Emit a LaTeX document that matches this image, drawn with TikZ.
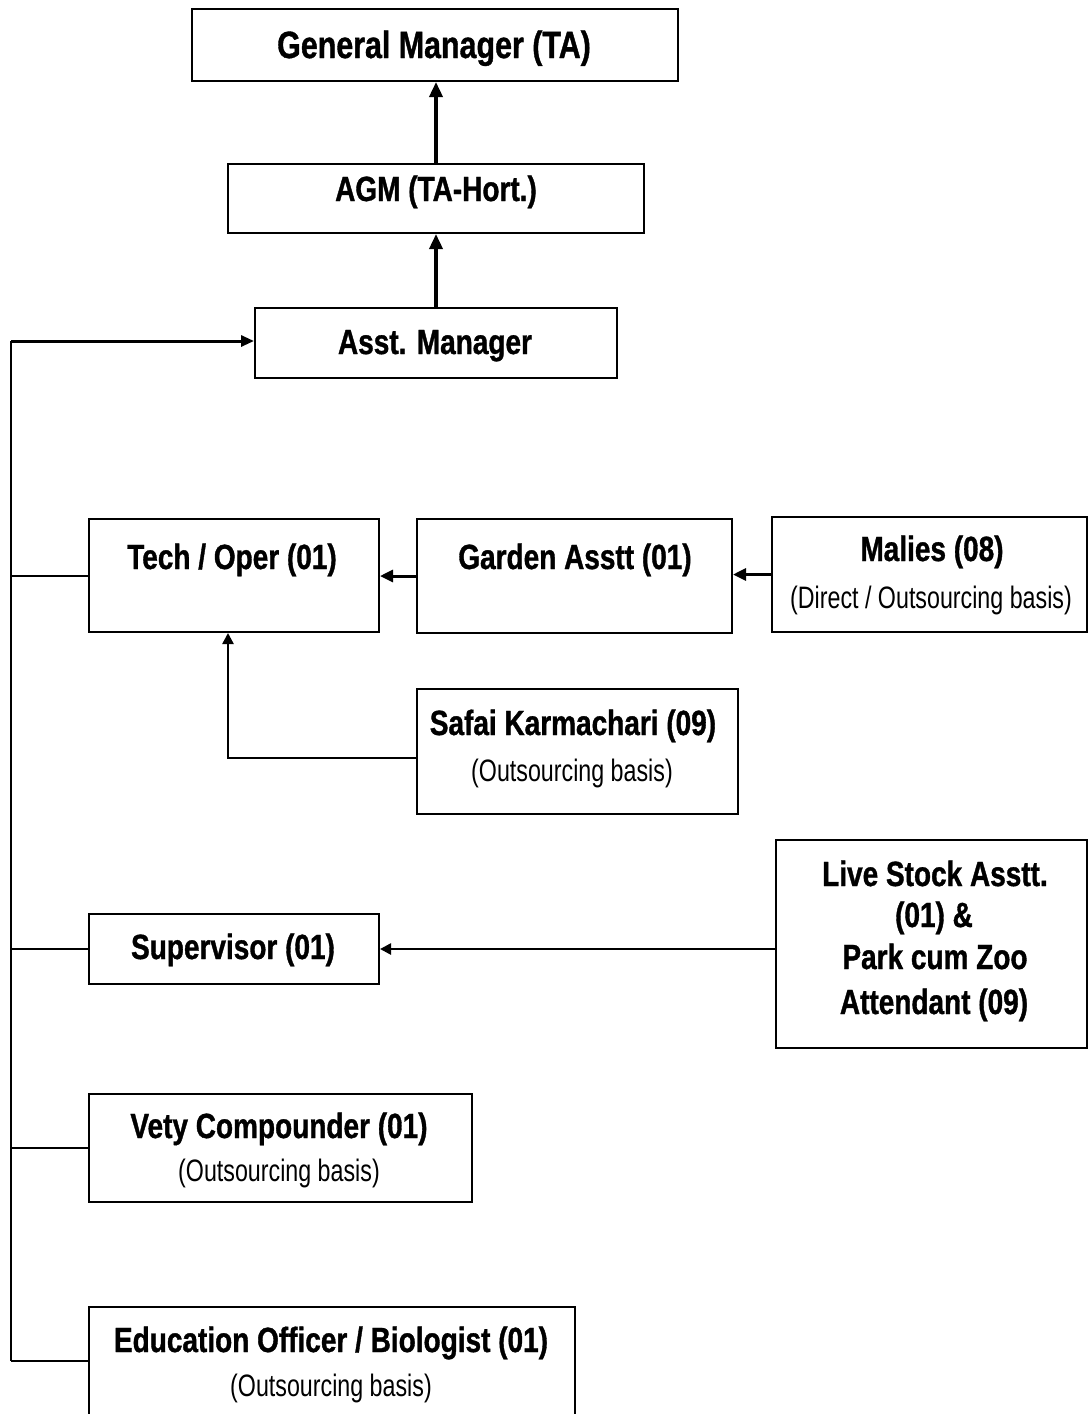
\documentclass[tikz,border=0pt]{standalone}
\usepackage{fontspec}
\newfontfamily\mainf[FakeStretch=0.8,FakeBold=1]{Liberation Sans Bold}
\newfontfamily\subf[FakeStretch=0.75]{Liberation Sans}
\usetikzlibrary{arrows.meta}
\tikzset{
  box/.style={draw, line width=2pt, inner sep=0pt, anchor=north west},
  ttl/.style={inner sep=0pt, anchor=base, font=\mainf\fontsize{35}{40}\selectfont},
  sub/.style={inner sep=0pt, anchor=base, font=\subf\fontsize{31}{36}\selectfont},
  bigarrow/.style={line width=3.5pt, -{Triangle[length=15pt,width=13pt]}},
  midarrow/.style={line width=3pt, -{Triangle[length=13pt,width=12pt]}},
  smallarrow/.style={line width=3pt, -{Triangle[length=13pt,width=11pt]}},
  thinarrow/.style={line width=2.5pt, -{Triangle[length=11pt,width=11pt]}},
  busline/.style={line width=2pt},
}
\begin{document}
\begin{tikzpicture}[x=1pt,y=-1pt]
\useasboundingbox (0,0) rectangle (1088,1414);
\begin{scope}
\clip (0,0) rectangle (1088,1414);
% boxes
\node[box, minimum width=486pt, minimum height=72pt] (gm) at (191,8) {};
\node[box, minimum width=416pt, minimum height=69pt] (agm) at (227,163) {};
\node[box, minimum width=362pt, minimum height=70pt] (am) at (254,307) {};
\node[box, minimum width=290pt, minimum height=113pt] (tech) at (88,518) {};
\node[box, minimum width=315pt, minimum height=114pt] (garden) at (416,518) {};
\node[box, minimum width=315pt, minimum height=115pt] (malies) at (771,516) {};
\node[box, minimum width=321pt, minimum height=125pt] (safai) at (416,688) {};
\node[box, minimum width=290pt, minimum height=70pt] (sup) at (88,913) {};
\node[box, minimum width=311pt, minimum height=208pt] (live) at (775,839) {};
\node[box, minimum width=383pt, minimum height=108pt] (vety) at (88,1093) {};
\node[box, minimum width=486pt, minimum height=140pt] (edu) at (88,1306) {};

% texts
\node[ttl, font=\mainf\fontsize{38}{42}\selectfont] (gmt) at (434,58) {General Manager (TA)};
\node[ttl] (agmt) at (436,201) {AGM (TA-Hort.)};
\node[ttl] (amt) at (435,354) {Asst. Manager};
\node[ttl] (techt) at (232,569) {Tech / Oper (01)};
\node[ttl] (gardent) at (575,569) {Garden Asstt (01)};
\node[ttl] (maliest) at (932,561) {Malies (08)};
\node[sub] (maliess) at (931,608) {(Direct / Outsourcing basis)};
\node[ttl] (safait) at (573,735) {Safai Karmachari (09)};
\node[sub] (safais) at (572,781) {(Outsourcing basis)};
\node[ttl] (supt) at (233,959) {Supervisor (01)};
\node[ttl] (live1) at (935,886) {Live Stock Asstt.};
\node[ttl] (live2) at (934,927) {(01) \&};
\node[ttl] (live3) at (935,969) {Park cum Zoo};
\node[ttl] (live4) at (934,1014) {Attendant (09)};
\node[ttl] (vetyt) at (279,1138) {Vety Compounder (01)};
\node[sub] (vetys) at (279,1181) {(Outsourcing basis)};
\node[ttl] (edut) at (331,1352) {Education Officer / Biologist (01)};
\node[sub] (edus) at (331,1396) {(Outsourcing basis)};

% connectors
\draw[bigarrow] (agm.north) -- (agm.north |- gm.south);
\draw[bigarrow] (am.north) -- (am.north |- agm.south);

\coordinate (bt) at (11,341);
\coordinate (bb) at (11,1361);
\draw[busline] (bt) -- (bb);
\draw[smallarrow] (bt) -- (bt -| am.west);
\draw[busline] (tech.west) -- (tech.west -| bt);
\draw[busline] (sup.west) -- (sup.west -| bt);
\draw[busline] (vety.west) -- (vety.west -| bt);
\draw[busline] (bb) -- (bb -| edu.west);

\draw[midarrow] (garden.west) -- (garden.west -| tech.east);
\draw[midarrow] (malies.west) -- (malies.west -| garden.east);

\coordinate (sk) at (228,758);
\draw[thinarrow] (sk -| safai.west) -- (sk) -- (sk |- tech.south);

\draw[thinarrow] (live.west |- sup.east) -- (sup.east);
\end{scope}
\end{tikzpicture}
\end{document}
